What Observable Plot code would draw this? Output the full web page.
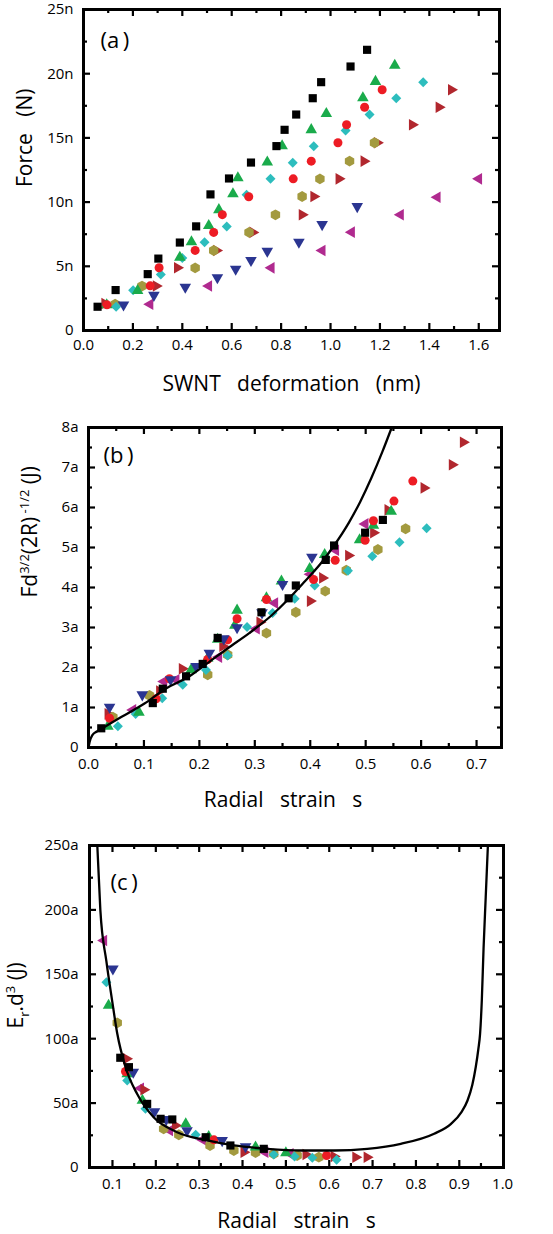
<!DOCTYPE html>
<html><head><meta charset="utf-8">
<script src="https://cdn.jsdelivr.net/npm/d3@7"></script>
<script src="https://cdn.jsdelivr.net/npm/@observablehq/plot@0.6"></script>
<style>
body{margin:0;background:#fff;width:553px;}
svg{display:block;}
</style>
</head><body><div id="chart"></div>
<script>
// ---------- Panel (a): Force (nN) vs SWNT deformation (nm) ----------
const a_black   = [[0.057,1.85],[0.130,3.15],[0.260,4.39],[0.303,5.60],[0.390,6.85],[0.456,8.11],[0.514,10.6],[0.589,11.84],[0.678,13.08],[0.781,14.36],[0.814,15.63],[0.861,16.82],[0.928,18.09],[0.962,19.34],[1.081,20.56],[1.148,21.86]];
const a_green   = [[0.094,1.99],[0.219,3.10],[0.390,5.70],[0.437,6.90],[0.507,8.16],[0.548,9.40],[0.605,10.64],[0.625,11.89],[0.744,13.11],[0.804,14.38],[0.922,15.63],[0.983,16.88],[1.131,18.12],[1.182,19.39],[1.260,20.64]];
const a_red     = [[0.095,2.00],[0.270,3.48],[0.306,4.89],[0.452,6.24],[0.527,7.64],[0.562,9.02],[0.669,10.42],[0.849,11.81],[0.922,13.19],[1.030,14.62],[1.065,16.02],[1.138,17.39],[1.209,18.75]];
const a_cyan    = [[0.132,1.85],[0.201,3.13],[0.313,4.37],[0.400,5.64],[0.490,6.87],[0.580,8.10],[0.660,10.58],[0.757,11.81],[0.847,13.06],[0.932,14.35],[1.061,15.58],[1.158,16.82],[1.266,18.09],[1.375,19.34]];
const a_olive   = [[0.128,2.05],[0.237,3.46],[0.452,4.88],[0.527,6.23],[0.670,7.64],[0.777,9.01],[0.885,10.44],[0.957,11.81],[1.077,13.19],[1.178,14.62]];
const a_darkred = [[0.086,2.10],[0.294,3.46],[0.380,4.89],[0.538,6.23],[0.685,7.64],[0.885,9.01],[0.932,10.44],[1.034,11.81],[1.135,13.19],[1.189,14.62],[1.331,16.02],[1.439,17.39],[1.489,18.75]];
const a_navy    = [[0.162,2.00],[0.285,2.75],[0.412,3.38],[0.542,4.12],[0.616,4.79],[0.678,5.46],[0.744,6.18],[0.872,6.88],[0.966,8.26],[1.108,9.66]];
const a_magenta = [[0.269,2.05],[0.507,3.46],[0.760,4.88],[0.966,6.23],[1.085,7.66],[1.283,9.01],[1.432,10.38],[1.600,11.81]];

// ---------- Panel (b): F d^3/2 (2R)^-1/2 (aJ) vs radial strain ----------
const b_black   = [[0.023,0.48],[0.116,1.11],[0.134,1.47],[0.176,1.78],[0.206,2.09],[0.233,2.74],[0.312,3.38],[0.361,3.73],[0.374,4.05],[0.428,4.69],[0.443,5.05],[0.499,5.37],[0.531,5.69]];
const b_red     = [[0.038,0.73],[0.122,1.22],[0.146,1.72],[0.215,2.20],[0.251,2.69],[0.268,3.22],[0.321,3.70],[0.406,4.20],[0.445,4.68],[0.499,5.18],[0.514,5.67],[0.551,6.16],[0.585,6.66]];
const b_green   = [[0.035,0.53],[0.091,0.88],[0.185,1.94],[0.215,2.23],[0.233,2.70],[0.264,3.05],[0.268,3.43],[0.321,3.74],[0.348,4.16],[0.399,4.47],[0.426,4.82],[0.489,5.19],[0.514,5.55],[0.546,5.90]];
const b_cyan    = [[0.053,0.53],[0.085,0.84],[0.133,1.23],[0.170,1.57],[0.212,1.94],[0.251,2.30],[0.286,3.01],[0.332,3.36],[0.372,3.72],[0.408,4.05],[0.468,4.42],[0.512,4.78],[0.561,5.13],[0.610,5.48]];
const b_olive   = [[0.044,0.76],[0.110,1.30],[0.215,1.82],[0.251,2.32],[0.321,2.86],[0.374,3.38],[0.427,3.91],[0.465,4.43],[0.522,4.95],[0.572,5.47]];
const b_darkred = [[0.035,0.84],[0.128,1.41],[0.169,1.97],[0.242,2.53],[0.309,3.13],[0.400,3.66],[0.422,4.24],[0.469,4.80],[0.514,5.37],[0.540,5.94],[0.605,6.49],[0.656,7.07],[0.676,7.63]];
const b_navy    = [[0.038,1.01],[0.097,1.32],[0.148,1.70],[0.194,2.03],[0.218,2.36],[0.244,2.72],[0.268,3.00],[0.313,3.37],[0.350,4.08],[0.403,4.76]];
const b_magenta = [[0.080,0.94],[0.136,1.65],[0.158,1.69],[0.235,2.26],[0.303,2.97],[0.336,3.61],[0.400,4.33],[0.446,4.93],[0.499,5.59]];
const b_curve   = [[0,0],[0.002,0.14],[0.007,0.31],[0.015,0.40],[0.026,0.49],[0.059,0.76],[0.101,1.10],[0.139,1.47],[0.182,1.78],[0.213,2.09],[0.250,2.47],[0.290,2.86],[0.330,3.30],[0.360,3.70],[0.390,4.15],[0.420,4.62],[0.443,5.05],[0.470,5.63],[0.490,6.14],[0.510,6.73],[0.530,7.39],[0.547,8.00]];

// ---------- Panel (c): E_r d^3 (aJ) vs radial strain ----------
const c_black   = [[0.118,85.2],[0.138,77.9],[0.180,49.4],[0.211,37.8],[0.238,37.3],[0.315,23.5],[0.372,17.1],[0.449,14.5]];
const c_red     = [[0.130,74.5],[0.334,21.5],[0.594,9.3]];
const c_green   = [[0.091,125.8],[0.134,72.7],[0.169,52.0],[0.269,33.9],[0.322,24.0],[0.430,15.8],[0.500,11.4]];
const c_cyan    = [[0.086,143.9],[0.134,67.5],[0.176,45.6],[0.292,25.4],[0.472,10.0],[0.520,8.5],[0.561,7.5],[0.617,6.0]];
const c_olive   = [[0.111,112.3],[0.218,30.0],[0.253,25.4],[0.325,17.1],[0.380,13.2],[0.430,11.6],[0.472,10.6],[0.526,9.3],[0.576,8.0]];
const c_darkred = [[0.132,84.4],[0.172,60.3],[0.245,32.6],[0.403,11.9],[0.546,10.1],[0.611,8.5],[0.661,8.0],[0.687,8.0]];
const c_navy    = [[0.101,154.3],[0.148,74.0],[0.197,43.5],[0.224,37.3],[0.272,28.7],[0.353,21.0],[0.407,16.3]];
const c_magenta = [[0.080,176.2],[0.165,61.5],[0.232,28.7],[0.308,21.5],[0.452,11.9],[0.510,10.6]];
const c_curve   = [[0.065,250],[0.072,200],[0.086,160],[0.099,130],[0.111,104],[0.130,78],[0.157,57],[0.195,39],[0.249,27.4],[0.319,21.0],[0.380,17.1],[0.457,14.5],[0.534,13.2],[0.611,13.2],[0.688,14.5],[0.765,18.4],[0.842,26.2],[0.881,33.9],[0.905,43],[0.919,52],[0.930,64],[0.938,78],[0.944,92],[0.948,104],[0.952,130],[0.956,170],[0.961,210],[0.966,250]];

// ---------- tick values ----------
const aXLabels = [0,0.2,0.4,0.6,0.8,1.0,1.2,1.4,1.6];
const aXMinor  = [0.1,0.3,0.5,0.7,0.9,1.1,1.3,1.5];
const aYLabels = [0,5,10,15,20,25];
const aYMinor  = [2.5,7.5,12.5,17.5,22.5];
const bXLabels = [0,0.1,0.2,0.3,0.4,0.5,0.6,0.7];
const bXMinor  = [0.05,0.15,0.25,0.35,0.45,0.55,0.65];
const bYLabels = [0,1,2,3,4,5,6,7,8];
const bYMinor  = [0.5,1.5,2.5,3.5,4.5,5.5,6.5,7.5];
const cXLabels = [0.1,0.2,0.3,0.4,0.5,0.6,0.7,0.8,0.9,1.0];
const cXMinor  = [0.15,0.25,0.35,0.45,0.55,0.65,0.75,0.85,0.95];
const cYLabels = [0,50,100,150,200,250];
const cYMinor  = [25,75,125,175,225];

// ---------- symbols ----------
function rotTriangle(deg) {
  const a = deg * Math.PI / 180, c = Math.cos(a), s = Math.sin(a), r3 = Math.sqrt(3);
  return {draw(ctx, size) {
    const y = -Math.sqrt(size / (r3 * 3));
    const pts = [[0, y * 2], [-r3 * y, -y], [r3 * y, -y]];
    pts.forEach(([px, py], i) => {
      const X = px * c - py * s, Y = px * s + py * c;
      i ? ctx.lineTo(X, Y) : ctx.moveTo(X, Y);
    });
    ctx.closePath();
  }};
}
const styles = [
  {key:"magenta", color:"#b02a8f", symbol: rotTriangle(270), r:4.3},
  {key:"darkred", color:"#b1272e", symbol: rotTriangle(90),  r:4.3},
  {key:"olive",   color:"#a39a3f", symbol: "hexagon",        r:4.7},
  {key:"cyan",    color:"#2dbdbd", symbol: "diamond2",       r:4.5},
  {key:"green",   color:"#1aab4b", symbol: "triangle",       r:4.3},
  {key:"red",     color:"#ed1c24", symbol: "circle",         r:4.5},
  {key:"navy",    color:"#2b3591", symbol: rotTriangle(180), r:4.3},
  {key:"black",   color:"#000000", symbol: "square",         r:4.6}
];
const aData = {black:a_black, red:a_red, green:a_green, cyan:a_cyan, olive:a_olive, darkred:a_darkred, navy:a_navy, magenta:a_magenta};
const bData = {black:b_black, red:b_red, green:b_green, cyan:b_cyan, olive:b_olive, darkred:b_darkred, navy:b_navy, magenta:b_magenta};
const cData = {black:c_black, red:c_red, green:c_green, cyan:c_cyan, olive:c_olive, darkred:c_darkred, navy:c_navy, magenta:c_magenta};

const W = 553;
const FONT = "Open Sans, Noto Sans, sans-serif";

function panel(cfg) {
  const innerW = W - cfg.ml - cfg.mr, innerH = cfg.height - cfg.mt - cfg.mb;
  const marks = [];
  for (const [vals, len] of [[cfg.xMajor, 7], [cfg.xMinor, 4]]) {
    marks.push(Plot.tickX(vals, {x: d => d, insetTop: innerH - len, strokeWidth: 2.2}));
    marks.push(Plot.tickX(vals, {x: d => d, insetBottom: innerH - len, strokeWidth: 2.2}));
  }
  for (const [vals, len] of [[cfg.yMajor, 7], [cfg.yMinor, 4]]) {
    marks.push(Plot.tickY(vals, {y: d => d, insetRight: innerW - len, strokeWidth: 2.2}));
    marks.push(Plot.tickY(vals, {y: d => d, insetLeft: innerW - len, strokeWidth: 2.2}));
  }
  marks.push(Plot.axisX(cfg.xLabels, {anchor: "bottom", tickSize: 0, tickPadding: cfg.xPad, tickFormat: cfg.xFmt, fontSize: 15, label: null}));
  marks.push(Plot.axisY(cfg.yLabels, {anchor: "left", tickSize: 0, tickPadding: cfg.yPad, tickFormat: cfg.yFmt, fontSize: 15, label: null}));
  for (const s of styles) {
    const d = cfg.data[s.key];
    if (!d) continue;
    marks.push(Plot.dot(d, {x: p => p[0], y: p => p[1], symbol: s.symbol, r: s.r, fill: s.color, stroke: "none", clip: true}));
  }
  if (cfg.curve) marks.push(Plot.line(cfg.curve, {x: p => p[0], y: p => p[1], curve: "monotone-x", stroke: "#000", strokeWidth: 2.3, clip: true}));
  marks.push(Plot.frame({strokeWidth: 3}));
  marks.push(Plot.text([cfg.tag], {text: d => d, frameAnchor: "top-left", textAnchor: "start", lineAnchor: "middle", dx: cfg.tagDx, dy: cfg.tagDy, fontSize: 22}));
  marks.push(Plot.text([cfg.xTitle], {text: d => d, frameAnchor: "bottom", lineAnchor: "middle", dx: cfg.xTitleDx, dy: cfg.xTitleDy, fontSize: 21}));
  marks.push(Plot.text([cfg.yTitle], {text: d => d, frameAnchor: "left", lineAnchor: "middle", rotate: -90, dx: cfg.yTitleDx, dy: cfg.yTitleDy, fontSize: 21}));
  return Plot.plot({
    width: W, height: cfg.height,
    marginTop: cfg.mt, marginBottom: cfg.mb, marginLeft: cfg.ml, marginRight: cfg.mr,
    style: {fontFamily: FONT, color: "#000", background: "#fff", overflow: "visible"},
    x: {domain: cfg.xDomain, label: null},
    y: {domain: cfg.yDomain, label: null},
    marks
  });
}

const nb = "\u00a0";
const svgA = panel({
  height: 400, mt: 9, mb: 70, ml: 83, mr: 54,
  xDomain: [0, 1.684], yDomain: [0, 25], data: aData,
  xLabels: aXLabels, xMajor: aXLabels.slice(1), xMinor: aXMinor,
  yLabels: aYLabels, yMajor: aYLabels.slice(1, -1), yMinor: aYMinor,
  xFmt: d3.format(".1f"), yFmt: d => d === 0 ? "0" : d + "n",
  xPad: 9, yPad: 10,
  tag: "(a" + "\u2009" + ")", tagDx: 17, tagDy: 31,
  xTitle: "SWNT" + nb.repeat(3) + "deformation" + nb.repeat(3) + "(nm)", xTitleDx: 0, xTitleDy: 54,
  yTitle: "Force" + nb.repeat(3) + "(N)", yTitleDx: -58, yTitleDy: 17
});
const svgB = panel({
  height: 415, mt: 27, mb: 68, ml: 88, mr: 52,
  xDomain: [0, 0.745], yDomain: [0, 8], data: bData, curve: b_curve,
  xLabels: bXLabels, xMajor: bXLabels.slice(1), xMinor: bXMinor,
  yLabels: bYLabels, yMajor: bYLabels.slice(1, -1), yMinor: bYMinor,
  xFmt: d3.format(".1f"), yFmt: d => d === 0 ? "0" : d + "a",
  xPad: 11, yPad: 10,
  tag: "(b" + "\u2009" + ")", tagDx: 15, tagDy: 28,
  xTitle: "Radial" + nb.repeat(3) + "strain" + nb.repeat(3) + "s", xTitleDx: -12, xTitleDy: 53,
  yTitle: "@YB", yTitleDx: -58, yTitleDy: 10
});
const svgC = panel({
  height: 419, mt: 30, mb: 67, ml: 89, mr: 50,
  xDomain: [0.047, 1.002], yDomain: [0, 250], data: cData, curve: c_curve,
  xLabels: cXLabels, xMajor: cXLabels.slice(0, -1), xMinor: cXMinor,
  yLabels: cYLabels, yMajor: cYLabels.slice(1, -1), yMinor: cYMinor,
  xFmt: d3.format(".1f"), yFmt: d => d === 0 ? "0" : d + "a",
  xPad: 11, yPad: 11,
  tag: "(c" + "\u2009" + ")", tagDx: 21, tagDy: 37,
  xTitle: "Radial" + nb.repeat(3) + "strain" + nb.repeat(3) + "s", xTitleDx: 0, xTitleDy: 54,
  yTitle: "@YC", yTitleDx: -73, yTitleDy: 22
});

function rich(svg, key, parts) {
  d3.select(svg).selectAll("text").filter(function() { return this.textContent === key; }).each(function() {
    const t = d3.select(this);
    t.text(null);
    for (const [txt, dy, size] of parts) {
      const sp = t.append("tspan").text(txt);
      if (dy) sp.attr("dy", dy);
      if (size) sp.attr("font-size", size);
    }
  });
}
rich(svgB, "@YB", [["Fd", 0], ["3/2", -8, 13], ["(2R)", 8], [nb + "-1/2", -8, 13], [nb + "(J)", 8]]);
rich(svgC, "@YC", [["E", 0], ["r", 6, 13], [".d", -6], ["3", -8, 13], [nb + "(J)", 8]]);

document.getElementById("chart").append(svgA, svgB, svgC);
</script>
</body></html>
